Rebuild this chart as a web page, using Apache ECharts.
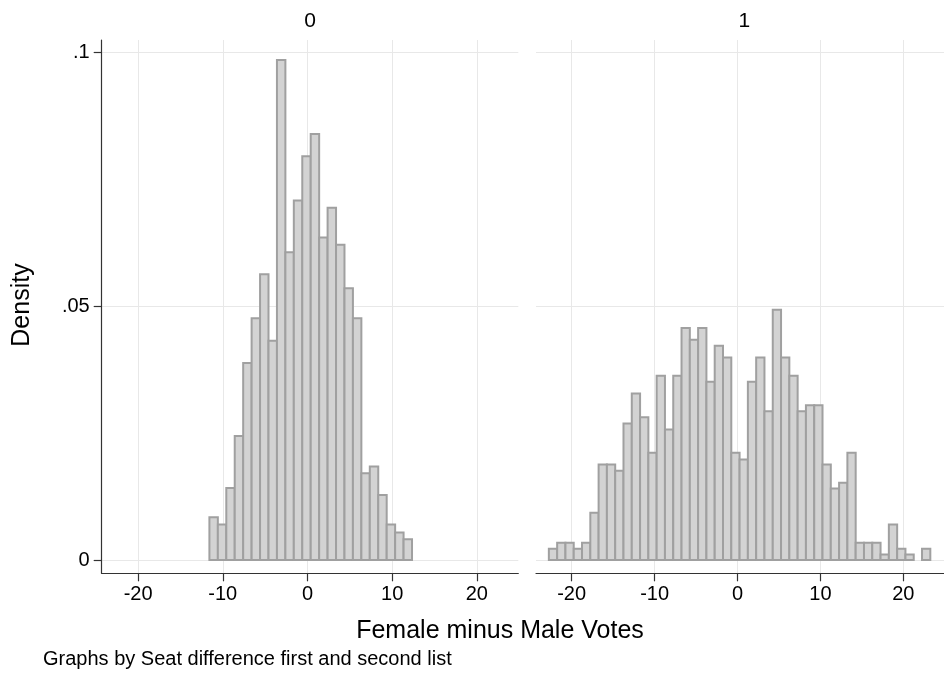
<!DOCTYPE html>
<html>
<head>
<meta charset="utf-8">
<script src="https://cdn.jsdelivr.net/npm/echarts@6/dist/echarts.min.js"></script>
<style>
  html, body { margin: 0; padding: 0; background: #fff; }
  #chart { width: 944px; height: 675px; }
</style>
</head>
<body>
<div id="chart"></div>
<script>
// histogram bins: first bin edge and bin width per panel
const panelNames = ['0', '1']
const leftStart = -11.58
const leftWidth = 0.997
const rightStart = -22.75
const rightWidth = 1

// density per bin
const leftDensity = [
  0.0084, 0.0070, 0.0142, 0.0244, 0.0388, 0.0476, 0.0563, 0.0432,
  0.0985, 0.0606, 0.0708, 0.0795, 0.0839, 0.0635, 0.0694, 0.0621,
  0.0535, 0.0476, 0.0171, 0.0184, 0.0128, 0.0070, 0.0054, 0.0041
]
const rightDensity = [
  0.0022, 0.0034, 0.0034, 0.0022, 0.0034, 0.0093, 0.0188, 0.0188,
  0.0176, 0.0269, 0.0328, 0.0281, 0.0211, 0.0363, 0.0257, 0.0363,
  0.0457, 0.0434, 0.0457, 0.0351, 0.0422, 0.0399, 0.0211, 0.0198,
  0.0351, 0.0399, 0.0293, 0.0493, 0.0399, 0.0363, 0.0293, 0.0305,
  0.0305, 0.0188, 0.0141, 0.0152, 0.0211, 0.0034, 0.0034, 0.0034,
  0.0011, 0.0070, 0.0022, 0.0011, 0, 0.0022
]

const xTicks = [-20, -10, 0, 10, 20]
const yTicks = [0, 0.05, 0.1]
const yTickLabels = ['0', '.05', '.1']

function binRows(start, width, values) {
  return values.map((v, i) => [start + i * width, start + (i + 1) * width, v])
}

const font = 'Liberation Sans, Arial, sans-serif'
const gridColor = '#e8e8e8'
const axisColor = '#333'

function renderBar(params, api) {
  const h = api.value(2)
  if (!h) return null
  const p0 = api.coord([api.value(0), h])
  const p1 = api.coord([api.value(1), 0])
  return {
    type: 'rect',
    shape: { x: p0[0], y: p0[1], width: p1[0] - p0[0], height: p1[1] - p0[1] },
    style: { fill: '#d3d3d3', stroke: '#a0a0a0', lineWidth: 2 }
  }
}

function xAxis(gridIndex) {
  return {
    type: 'value',
    gridIndex: gridIndex,
    min: -24.3,
    max: 24.9,
    axisLine: { show: true, onZero: false, lineStyle: { color: axisColor, width: 1.2 } },
    axisTick: { show: true, length: 8, customValues: xTicks, lineStyle: { color: axisColor, width: 1.2 } },
    axisLabel: { customValues: xTicks, margin: 11, fontSize: 20, color: '#000', fontFamily: font },
    splitLine: { show: true, lineStyle: { color: gridColor, width: 1 } }
  }
}

function yAxis(gridIndex, visible) {
  return {
    type: 'value',
    gridIndex: gridIndex,
    min: -0.00262,
    max: 0.10242,
    axisLine: { show: visible, onZero: false, lineStyle: { color: axisColor, width: 1.2 } },
    axisTick: { show: visible, length: 8, customValues: yTicks, lineStyle: { color: axisColor, width: 1.2 } },
    axisLabel: {
      show: visible,
      customValues: yTicks,
      margin: 12,
      fontSize: 20,
      color: '#000',
      fontFamily: font,
      formatter: (v) => yTickLabels[yTicks.indexOf(+v.toFixed(2))] || ''
    },
    splitLine: { show: true, lineStyle: { color: gridColor, width: 1 } }
  }
}

const option = {
  animation: false,
  backgroundColor: '#fff',
  grid: [
    { left: 101.7, top: 40, width: 416.6, height: 533.3 },
    { left: 536, top: 40, width: 416.6, height: 533.3 }
  ],
  xAxis: [xAxis(0), xAxis(1)],
  yAxis: [yAxis(0, true), yAxis(1, false)],
  series: [
    {
      type: 'custom',
      xAxisIndex: 0,
      yAxisIndex: 0,
      renderItem: renderBar,
      encode: { x: [0, 1], y: 2 },
      data: binRows(leftStart, leftWidth, leftDensity)
    },
    {
      type: 'custom',
      xAxisIndex: 1,
      yAxisIndex: 1,
      renderItem: renderBar,
      encode: { x: [0, 1], y: 2 },
      data: binRows(rightStart, rightWidth, rightDensity)
    }
  ],
  graphic: [
    { type: 'text', x: 310, y: 21, style: { text: panelNames[0], font: '21px ' + font, fill: '#000', align: 'center', verticalAlign: 'middle' } },
    { type: 'text', x: 744.3, y: 21, style: { text: panelNames[1], font: '21px ' + font, fill: '#000', align: 'center', verticalAlign: 'middle' } },
    { type: 'text', x: 22.5, y: 305, rotation: Math.PI / 2, style: { text: 'Density', font: '25px ' + font, fill: '#000', align: 'center', verticalAlign: 'middle' } },
    { type: 'text', x: 500, y: 631, style: { text: 'Female minus Male Votes', font: '25px ' + font, fill: '#000', align: 'center', verticalAlign: 'middle' } },
    { type: 'text', x: 43, y: 659, style: { text: 'Graphs by Seat difference first and second list', font: '20px ' + font, fill: '#000', align: 'left', verticalAlign: 'middle' } }
  ]
}

const myChart = echarts.init(document.getElementById('chart'))
myChart.setOption(option)
</script>
</body>
</html>
